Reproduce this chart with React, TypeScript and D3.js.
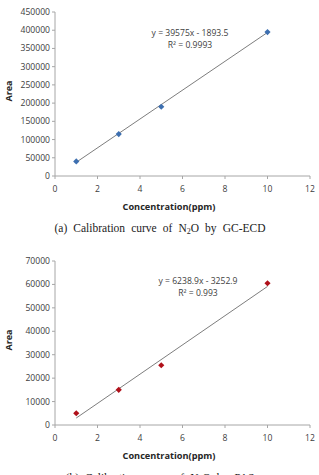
import React from "react";
import * as d3 from "d3";

// GC-ECD calibration data
const concA = [1, 3, 5, 10];
const areaA = [40000, 115000, 190000, 395000];
const slopeA = 39575;
const interceptA = -1893.5;
const r2A = "0.9993";
const yTicksA = [0, 50000, 100000, 150000, 200000, 250000, 300000, 350000, 400000, 450000];

// PAS calibration data
const concB = [1, 3, 5, 10];
const areaB = [5000, 15000, 25500, 60500];
const slopeB = 6238.9;
const interceptB = -3252.9;
const r2B = "0.993";
const yTicksB = [0, 10000, 20000, 30000, 40000, 50000, 60000, 70000];

const xTicks = [0, 2, 4, 6, 8, 10, 12];

const sansFont = "'Open Sans', 'DejaVu Sans', sans-serif";
const serifFont = "'Liberation Serif', 'DejaVu Serif', serif";

type PanelProps = {
  conc: number[];
  area: number[];
  slope: number;
  intercept: number;
  r2: string;
  yTicks: number[];
  yMax: number;
  top: number;
  bottom: number;
  color: string;
  eqX: number;
  eqY: number;
  equation: string;
  captionY: number;
  captionParts: [string, string, string];
};

function Panel(p: PanelProps) {
  const x = d3.scaleLinear().domain([0, 12]).range([55, 310]);
  const y = d3.scaleLinear().domain([0, p.yMax]).range([p.bottom, p.top]);
  const fitX = [d3.min(p.conc)!, d3.max(p.conc)!];
  const line = d3
    .line<number>()
    .x((c) => x(c))
    .y((c) => y(p.slope * c + p.intercept));
  // Excel-style diamond: a square turned by 45 degrees
  const marker = d3.symbol(d3.symbolSquare, 19)()!;
  const axisColor = "#a6a6a6";
  const tickText = "#404040";
  const tickSize = 8.6;
  return (
    <g>
      {/* y axis */}
      <line x1={x(0)} x2={x(0)} y1={y(0)} y2={y(p.yMax)} stroke={axisColor} strokeWidth={1} />
      {p.yTicks.map((t) => (
        <g key={"y" + t}>
          <line x1={x(0) - 3} x2={x(0)} y1={y(t)} y2={y(t)} stroke={axisColor} />
          <text
            x={x(0) - 5}
            y={y(t)}
            dy="0.35em"
            textAnchor="end"
            fontSize={tickSize}
            fontFamily={sansFont}
            fill={tickText}
          >
            {t}
          </text>
        </g>
      ))}
      {/* x axis */}
      <line x1={x(0)} x2={x(12)} y1={y(0)} y2={y(0)} stroke={axisColor} strokeWidth={1} />
      {xTicks.map((t) => (
        <g key={"x" + t}>
          <line x1={x(t)} x2={x(t)} y1={y(0)} y2={y(0) + 3} stroke={axisColor} />
          <text
            x={x(t)}
            y={y(0) + 12.5}
            dy="0.35em"
            textAnchor="middle"
            fontSize={tickSize}
            fontFamily={sansFont}
            fill={tickText}
          >
            {t}
          </text>
        </g>
      ))}
      {/* axis titles */}
      <text
        transform={`translate(9,${(y(0) + y(p.yMax)) / 2 - 3}) rotate(-90)`}
        textAnchor="middle"
        dy="0.35em"
        fontSize={9}
        fontWeight="bold"
        fontFamily={sansFont}
        fill="#262626"
      >
        Area
      </text>
      <text
        x={169}
        y={y(0) + 31}
        dy="0.35em"
        textAnchor="middle"
        fontSize={9.2}
        fontWeight="bold"
        fontFamily={sansFont}
        fill="#262626"
      >
        Concentration(ppm)
      </text>
      {/* linear fit */}
      <path d={line(fitX) ?? ""} fill="none" stroke="#6e6e6e" strokeWidth={0.9} />
      {/* data points */}
      {p.conc.map((c, i) => (
        <path
          key={"p" + i}
          d={marker}
          transform={`translate(${x(c)},${y(p.area[i])}) rotate(45)`}
          fill={p.color}
        />
      ))}
      {/* fit equation */}
      <text x={p.eqX} y={p.eqY} textAnchor="middle" fontSize={8.6} fontFamily={sansFont} fill="#404040">
        {p.equation}
      </text>
      <text x={p.eqX} y={p.eqY + 12} textAnchor="middle" fontSize={8.6} fontFamily={sansFont} fill="#404040">
        R² = {p.r2}
      </text>
      {/* caption */}
      <text
        x={160}
        y={p.captionY}
        textAnchor="middle"
        fontSize={11.5}
        fontFamily={serifFont}
        fill="#222"
        wordSpacing={3.2}
      >
        {p.captionParts[0]}
        <tspan fontSize={8} dy={2}>{p.captionParts[1]}</tspan>
        <tspan dy={-2}>{p.captionParts[2]}</tspan>
      </text>
    </g>
  );
}

export default function App() {
  return (
    <svg
      width={319}
      height={475}
      style={{ position: "absolute", left: 0, top: 0, background: "#fff" }}
    >
      <rect width={319} height={475} fill="#fff" />
      <Panel
        conc={concA}
        area={areaA}
        slope={slopeA}
        intercept={interceptA}
        r2={r2A}
        yTicks={yTicksA}
        yMax={450000}
        top={12}
        bottom={176}
        color="#3d6fb0"
        eqX={190}
        eqY={36}
        equation={`y = ${slopeA}x - ${Math.abs(interceptA)}`}
        captionY={232}
        captionParts={["(a) Calibration curve of N", "2", "O by GC-ECD"]}
      />
      <Panel
        conc={concB}
        area={areaB}
        slope={slopeB}
        intercept={interceptB}
        r2={r2B}
        yTicks={yTicksB}
        yMax={70000}
        top={261}
        bottom={425}
        color="#b0101a"
        eqX={198}
        eqY={284}
        equation={`y = ${slopeB}x - ${Math.abs(interceptB)}`}
        captionY={482}
        captionParts={["(b) Calibration curve of N", "2", "O by PAS"]}
      />
    </svg>
  );
}
